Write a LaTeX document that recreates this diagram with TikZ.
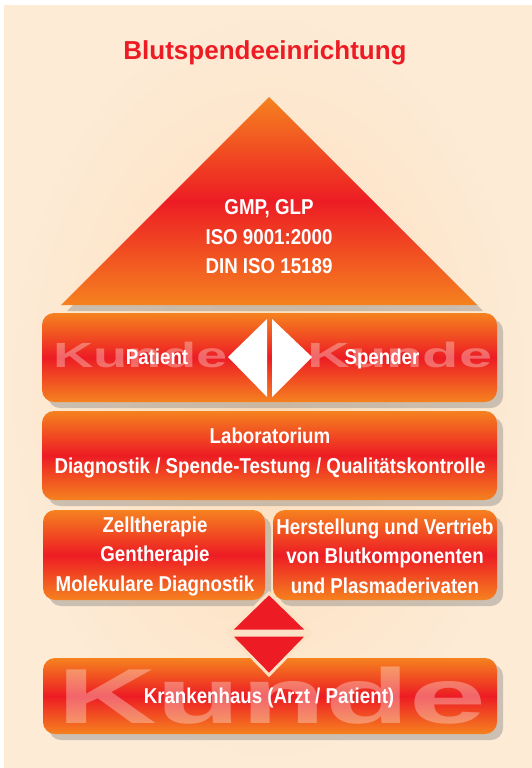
\documentclass[tikz,border=0pt]{standalone}
\usepackage{fontspec}
\setmainfont{Liberation Sans}
\newfontfamily\condfont[FakeStretch=0.87]{Liberation Sans}
\usetikzlibrary{shadows}
\definecolor{bandorange}{HTML}{F5821F}
\definecolor{bandred}{HTML}{ED1C24}
\definecolor{paper}{HTML}{FDEBD6}
\definecolor{paperdark}{HTML}{FCDCB8}
\definecolor{diamondrim}{HTML}{FCE2C4}

\begin{document}
\begin{tikzpicture}[x=1pt, y=-1pt,
			band/.style={
				rounded corners=12pt,
				top color=bandorange,
				bottom color=bandorange,
				middle color=bandred,
				drop shadow={shadow xshift=6pt, shadow yshift=-6pt, fill=black!50, opacity=.4}},
			bandtext/.style={
				text=white,
				align=center,
				inner sep=0pt,
				font=\condfont\bfseries\fontsize{21.5}{29.5}\selectfont},
			watermark/.style={
				text=white,
				text opacity=.32,
				inner sep=0pt,
				anchor=base west,
				font=\bfseries}]
			\useasboundingbox (0, 0) rectangle (532, 768);
			\fill[white] (0, 0) rectangle (532, 768);
			\shade[inner color=paperdark, outer color=paper] (4, 6) rectangle (532, 768);
			% title
			\node (title) at (265, 53) [text=bandred, font=\bfseries\fontsize{26}{30}\selectfont] {Blutspendeeinrichtung};
			% pyramid
			\path[top color=bandorange, bottom color=bandorange, middle color=bandred,
				drop shadow={shadow xshift=6pt, shadow yshift=-6pt, fill=black!50, opacity=.4}]
				(269, 97) -- (477, 305) -- (61, 305) -- cycle;
			\node (norms) at (269, 237) [bandtext] {GMP, GLP\\ISO 9001:2000\\DIN ISO 15189};
			% customer band
			\path[band] (42, 313) rectangle (497, 402);
			\node (kundeL) at (53, 367) [watermark] {\fontsize{35}{35}\selectfont\scalebox{1.6}[1]{Kunde}};
			\node (kundeR) at (307, 367) [watermark] {\fontsize{35}{35}\selectfont\scalebox{1.7}[1]{Kunde}};
			\fill[white] (228, 357) -- (267, 319) -- (267, 397) -- cycle;
			\fill[white] (272, 319) -- (312, 357) -- (272, 397) -- cycle;
			\node (patient) at (157, 364) [bandtext, anchor=base] {Patient};
			\node (spender) at (382, 364) [bandtext, anchor=base] {Spender};
			% laboratory
			\path[band] (42, 411) rectangle (497, 500);
			\node (labor) at (270, 453) [bandtext] {Laboratorium\\Diagnostik / Spende-Testung / Qualitätskontrolle};
			% two boxes
			\path[band] (43, 510) rectangle (265, 600);
			\path[band] (273, 510) rectangle (497, 600);
			\node (therapie) at (155, 556) [bandtext] {Zelltherapie\\Gentherapie\\Molekulare Diagnostik};
			\node (vertrieb) at (385, 556) [bandtext] {Herstellung und Vertrieb\\von Blutkomponenten\\und Plasmaderivaten};
			% hospital band
			\path[band] (43, 658) rectangle (497, 734);
			\node (kundeB) at (57, 723) [watermark] {\fontsize{78}{78}\selectfont\scalebox{1.77}[1]{Kunde}};
			\node (haus) at (269, 698) [bandtext] {Krankenhaus (Arzt / Patient)};
			% diamond
			\filldraw[draw=diamondrim, line width=3pt, fill=bandred] (269, 593) -- (308, 631) -- (230, 631) -- cycle;
			\filldraw[draw=diamondrim, line width=3pt, fill=bandred] (230, 635) -- (308, 635) -- (269, 675) -- cycle;
\end{tikzpicture}
\end{document}
